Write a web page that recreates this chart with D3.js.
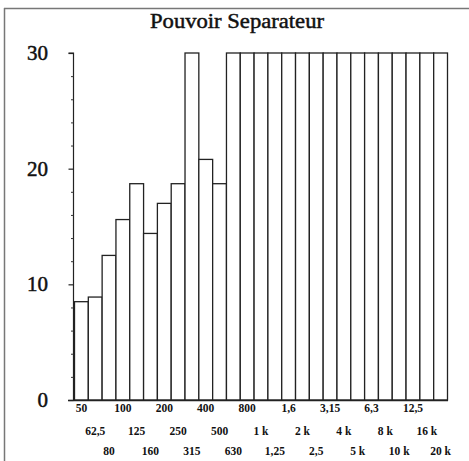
<!DOCTYPE html>
<html>
<head>
<meta charset="utf-8">
<script src="https://cdn.jsdelivr.net/npm/d3@7/dist/d3.min.js"></script>
<style>
  html, body { margin: 0; padding: 0; background: #fff; }
  svg { display: block; }
</style>
</head>
<body>
<svg id="chart" width="469" height="461"></svg>
<script>
// Third-octave band centre frequencies (labels as printed, French decimal comma)
const bandLabels = [
  "50", "62,5", "80", "100", "125", "160", "200", "250", "315",
  "400", "500", "630", "800", "1 k", "1,25", "1,6", "2 k", "2,5",
  "3,15", "4 k", "5 k", "6,3", "8 k", "10 k", "12,5", "16 k", "20 k"
];
// Separation power per band (capped at 30)
const separation = [
  8.5, 8.9, 12.5, 15.6, 18.7, 14.4, 17.0, 18.7, 30,
  20.8, 18.7, 30, 30, 30, 30, 30, 30, 30,
  30, 30, 30, 30, 30, 30, 30, 30, 30
];
const yMajorTicks = [0, 10, 20, 30];
const yMinorTicks = [2, 4, 6, 8, 12, 14, 16, 18, 22, 24, 26, 28];
const title = "Pouvoir Separateur";

const svg = d3.select("#chart");
const serif = "'Liberation Serif', 'Times New Roman', serif";

// Frame (top and left edges)
svg.append("line").attr("x1", 4).attr("x2", 469).attr("y1", 8.5).attr("y2", 8.5)
  .attr("stroke", "#777").attr("stroke-width", 1.5);
svg.append("line").attr("x1", 4.5).attr("x2", 4.5).attr("y1", 8).attr("y2", 461)
  .attr("stroke", "#777").attr("stroke-width", 1.5);

svg.append("text")
  .attr("x", 150).attr("y", 28)
  .attr("font-family", serif)
  .attr("font-size", 20)
  .attr("textLength", 174)
  .attr("lengthAdjust", "spacingAndGlyphs")
  .attr("fill", "#111")
  .attr("stroke", "#111")
  .attr("stroke-width", 0.45)
  .text(title);

const x = d3.scaleBand()
  .domain(d3.range(bandLabels.length))
  .range([74.5, 447.5])
  .padding(0);

const y = d3.scaleLinear().domain([0, 30]).range([400, 53]);

// Bars
svg.append("g").selectAll("rect")
  .data(separation)
  .join("rect")
  .attr("x", (d, i) => x(i))
  .attr("y", d => y(d))
  .attr("width", x.bandwidth())
  .attr("height", d => y(0) - y(d))
  .attr("fill", "#fff")
  .attr("stroke", "#222")
  .attr("stroke-width", 1.3);

// Y axis: major and minor ticks pointing left
const yAxis = svg.append("g").attr("transform", "translate(73.5,0)");
yAxis.call(d3.axisLeft(y).tickValues(yMajorTicks).tickSize(5).tickFormat(""));
yAxis.call(g => g.select(".domain").attr("stroke", "#222").attr("stroke-width", 1.2)
  .attr("d", `M-5,${y(30)}H0V${y(0)}`));
yAxis.selectAll(".tick line").attr("stroke", "#222").attr("stroke-width", 1.2);
const yMinor = svg.append("g").attr("transform", "translate(73.5,0)");
yMinor.call(d3.axisLeft(y).tickValues(yMinorTicks).tickSize(2.5).tickFormat(""));
yMinor.select(".domain").remove();
yMinor.selectAll(".tick line").attr("stroke", "#333").attr("stroke-width", 1);

// Y labels
svg.append("g").selectAll("text")
  .data(yMajorTicks)
  .join("text")
  .attr("x", 48)
  .attr("y", d => y(d) + 7)
  .attr("text-anchor", "end")
  .attr("font-family", serif)
  .attr("font-size", 21)
  .attr("fill", "#111")
  .attr("stroke", "#111")
  .attr("stroke-width", 0.5)
  .text(d => d);

// Baseline
svg.append("line")
  .attr("x1", 68).attr("x2", 448)
  .attr("y1", y(0) + 0.5).attr("y2", y(0) + 0.5)
  .attr("stroke", "#222").attr("stroke-width", 1.3);

// Band labels, staggered over three rows
const rowY = [412, 435, 455];
svg.append("g").selectAll("text")
  .data(bandLabels)
  .join("text")
  .attr("x", (d, i) => x(i) + x.bandwidth() / 2)
  .attr("y", (d, i) => rowY[i % 3])
  .attr("text-anchor", "middle")
  .attr("font-family", serif)
  .attr("font-size", 11.5)
  .attr("font-weight", "bold")
  .attr("fill", "#111")
  .text(d => d);
</script>
</body>
</html>
